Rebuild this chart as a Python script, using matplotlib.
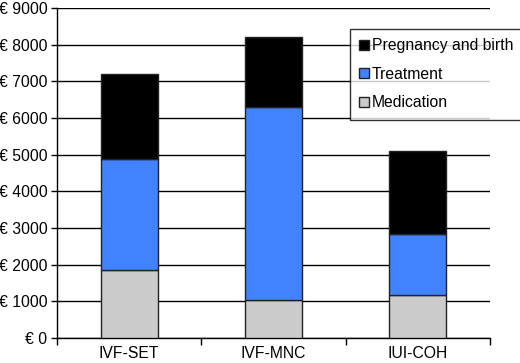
import matplotlib
matplotlib.use("Agg")
import matplotlib.pyplot as plt
from matplotlib.patches import Patch
import numpy as np

categories = ["IVF-SET", "IVF-MNC", "IUI-COH"]
medication = [1860, 1040, 1170]
treatment = [3010, 5260, 1670]
pregnancy = [2330, 1900, 2260]
yticks = [0, 1000, 2000, 3000, 4000, 5000, 6000, 7000, 8000, 9000]
ytick_labels = ["€ %d" % v for v in yticks]

plt.rcParams['font.family'] = ['Liberation Sans', 'DejaVu Sans']
FS = 11.3

fig = plt.figure(figsize=(5.2, 3.63), dpi=100)
ax = fig.add_axes([57/520, 1-338/363, (490-57)/520, (338-8)/363])

x = np.arange(len(categories))
w = 0.395
c_med = "#CBCBCB"
c_tr = "#4183FF"
c_pr = "#000000"
ec = "#222222"
ax.bar(x, medication, w, color=c_med, edgecolor=ec, linewidth=1, zorder=3)
ax.bar(x, treatment, w, bottom=medication, color=c_tr, edgecolor=ec, linewidth=1, zorder=3)
bottom2 = np.array(medication) + np.array(treatment)
ax.bar(x, pregnancy, w, bottom=bottom2, color=c_pr, edgecolor=ec, linewidth=1, zorder=3)

ax.set_xlim(-0.5, 2.5)
ax.set_ylim(0, 9000)
ax.set_yticks(yticks)
ax.set_yticklabels(ytick_labels, fontsize=FS)
ax.yaxis.grid(True, color="#000000", linewidth=1)
ax.set_axisbelow(True)

ax.set_xticks([-0.5, 0.5, 1.5, 2.5])
ax.set_xticklabels([])
ax.set_xticks(x, minor=True)
ax.set_xticklabels(categories, minor=True, fontsize=FS)
ax.tick_params(axis='x', which='minor', length=0, pad=6)
ax.tick_params(axis='x', which='major', length=5, direction='out', width=1)
ax.tick_params(axis='y', length=4, direction='out', width=1, pad=3)

for s in ["top", "right"]:
    ax.spines[s].set_visible(False)
for s in ["left", "bottom"]:
    ax.spines[s].set_color("#000000")
    ax.spines[s].set_linewidth(1)

handles = [Patch(facecolor=c_pr, edgecolor=ec, label="Pregnancy and birth"),
           Patch(facecolor=c_tr, edgecolor=ec, label="Treatment"),
           Patch(facecolor=c_med, edgecolor=ec, label="Medication")]
leg = fig.legend(handles=handles, loc='upper left', bbox_to_anchor=(350/520, 1-29/363),
                 fontsize=FS, frameon=True, fancybox=False, shadow=False,
                 handlelength=0.6, handleheight=0.6, handletextpad=0.2,
                 labelspacing=0.85, borderpad=0.6, borderaxespad=0)
leg.get_frame().set_edgecolor("#000000")
leg.get_frame().set_linewidth(1)

fig.savefig("out.png", dpi=100)
